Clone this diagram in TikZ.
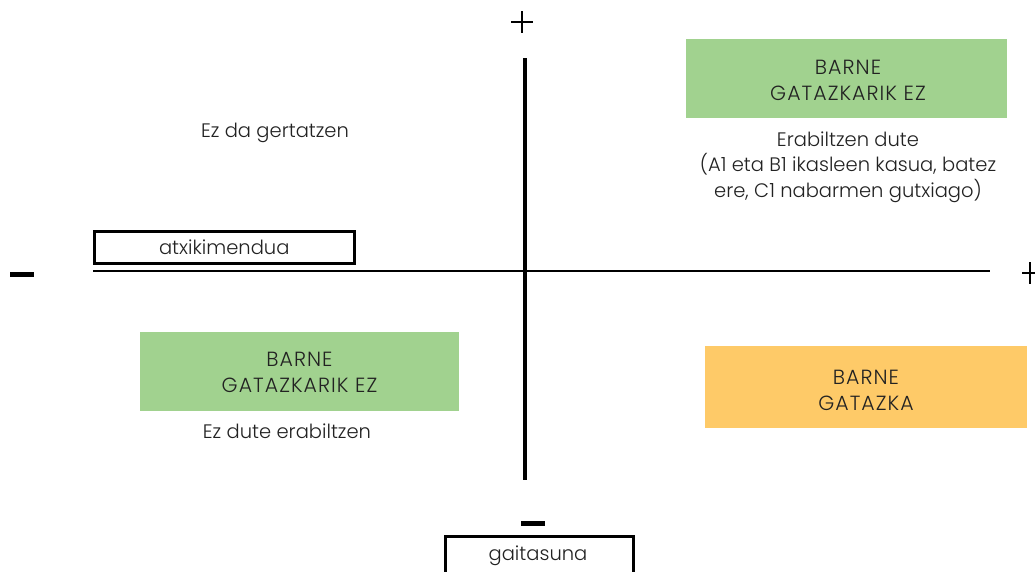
\documentclass[tikz,border=0pt]{standalone}
\usepackage{fontspec}
\setmainfont{Poppins}[UprightFont=* Light]
\definecolor{boxgreen}{HTML}{A1D28F}
\definecolor{boxorange}{HTML}{FECA68}
\definecolor{txt}{HTML}{222222}
\begin{document}
\begin{tikzpicture}[x=1pt,y=-1pt,
  every node/.style={text=txt,font=\fontsize{19.5}{25.5}\selectfont},
  framebox/.style={draw=black,line width=2.5pt,inner sep=0pt,anchor=north west},
  lbl/.style={align=center,inner sep=0pt},
  capslbl/.style={lbl,font=\fontsize{20.5}{26}\selectfont\addfontfeature{LetterSpace=5}}]
\useasboundingbox (0,0) rectangle (1035,571);
% axes
\coordinate (vt) at (525,58);
\coordinate (vb) at (525,480);
\coordinate (hl) at (93,271);
\coordinate (hr) at (990,271);
\draw[line width=4pt] (vt) -- (vb);
\draw[line width=2.5pt] (hl) -- (hr);
% signs
\draw[line width=2pt] (511,22) -- (533,22) (522,11) -- (522,33);
\draw[line width=2pt] (1022,273) -- (1036,273) (1030,262) -- (1030,284);
\fill[black] (10,271.5) rectangle (34,276.5);
\fill[black] (521,520.5) rectangle (545,525.5);
% framed labels
\node[framebox,minimum width=260pt,minimum height=32pt] (atx) at (93,230) {};
\node at (atx.center) {atxikimendua};
\node[framebox,minimum width=188pt,minimum height=45pt] (gai) at (444,535) {};
\node at (538,556) {gaitasuna};
% boxes
\fill[boxgreen] (686,39) rectangle (1007,118);
\node[capslbl] (g1) at (848,80) {BARNE\\GATAZKARIK EZ};
\fill[boxgreen] (140,332) rectangle (459,411);
\node[capslbl] (g2) at (299.5,372) {BARNE\\GATAZKARIK EZ};
\fill[boxorange] (705,346) rectangle (1027,428);
\node[capslbl] (o1) at (866,390) {BARNE\\GATAZKA};
% texts
\node[lbl] (t1) at (848,167) {Erabiltzen dute\\(A1 eta B1 ikasleen kasua, batez\\ere, C1 nabarmen gutxiago)};
\node[lbl] (t2) at (275,133) {Ez da gertatzen};
\node[lbl] (t3) at (287,431) {Ez dute erabiltzen};
\end{tikzpicture}
\end{document}
